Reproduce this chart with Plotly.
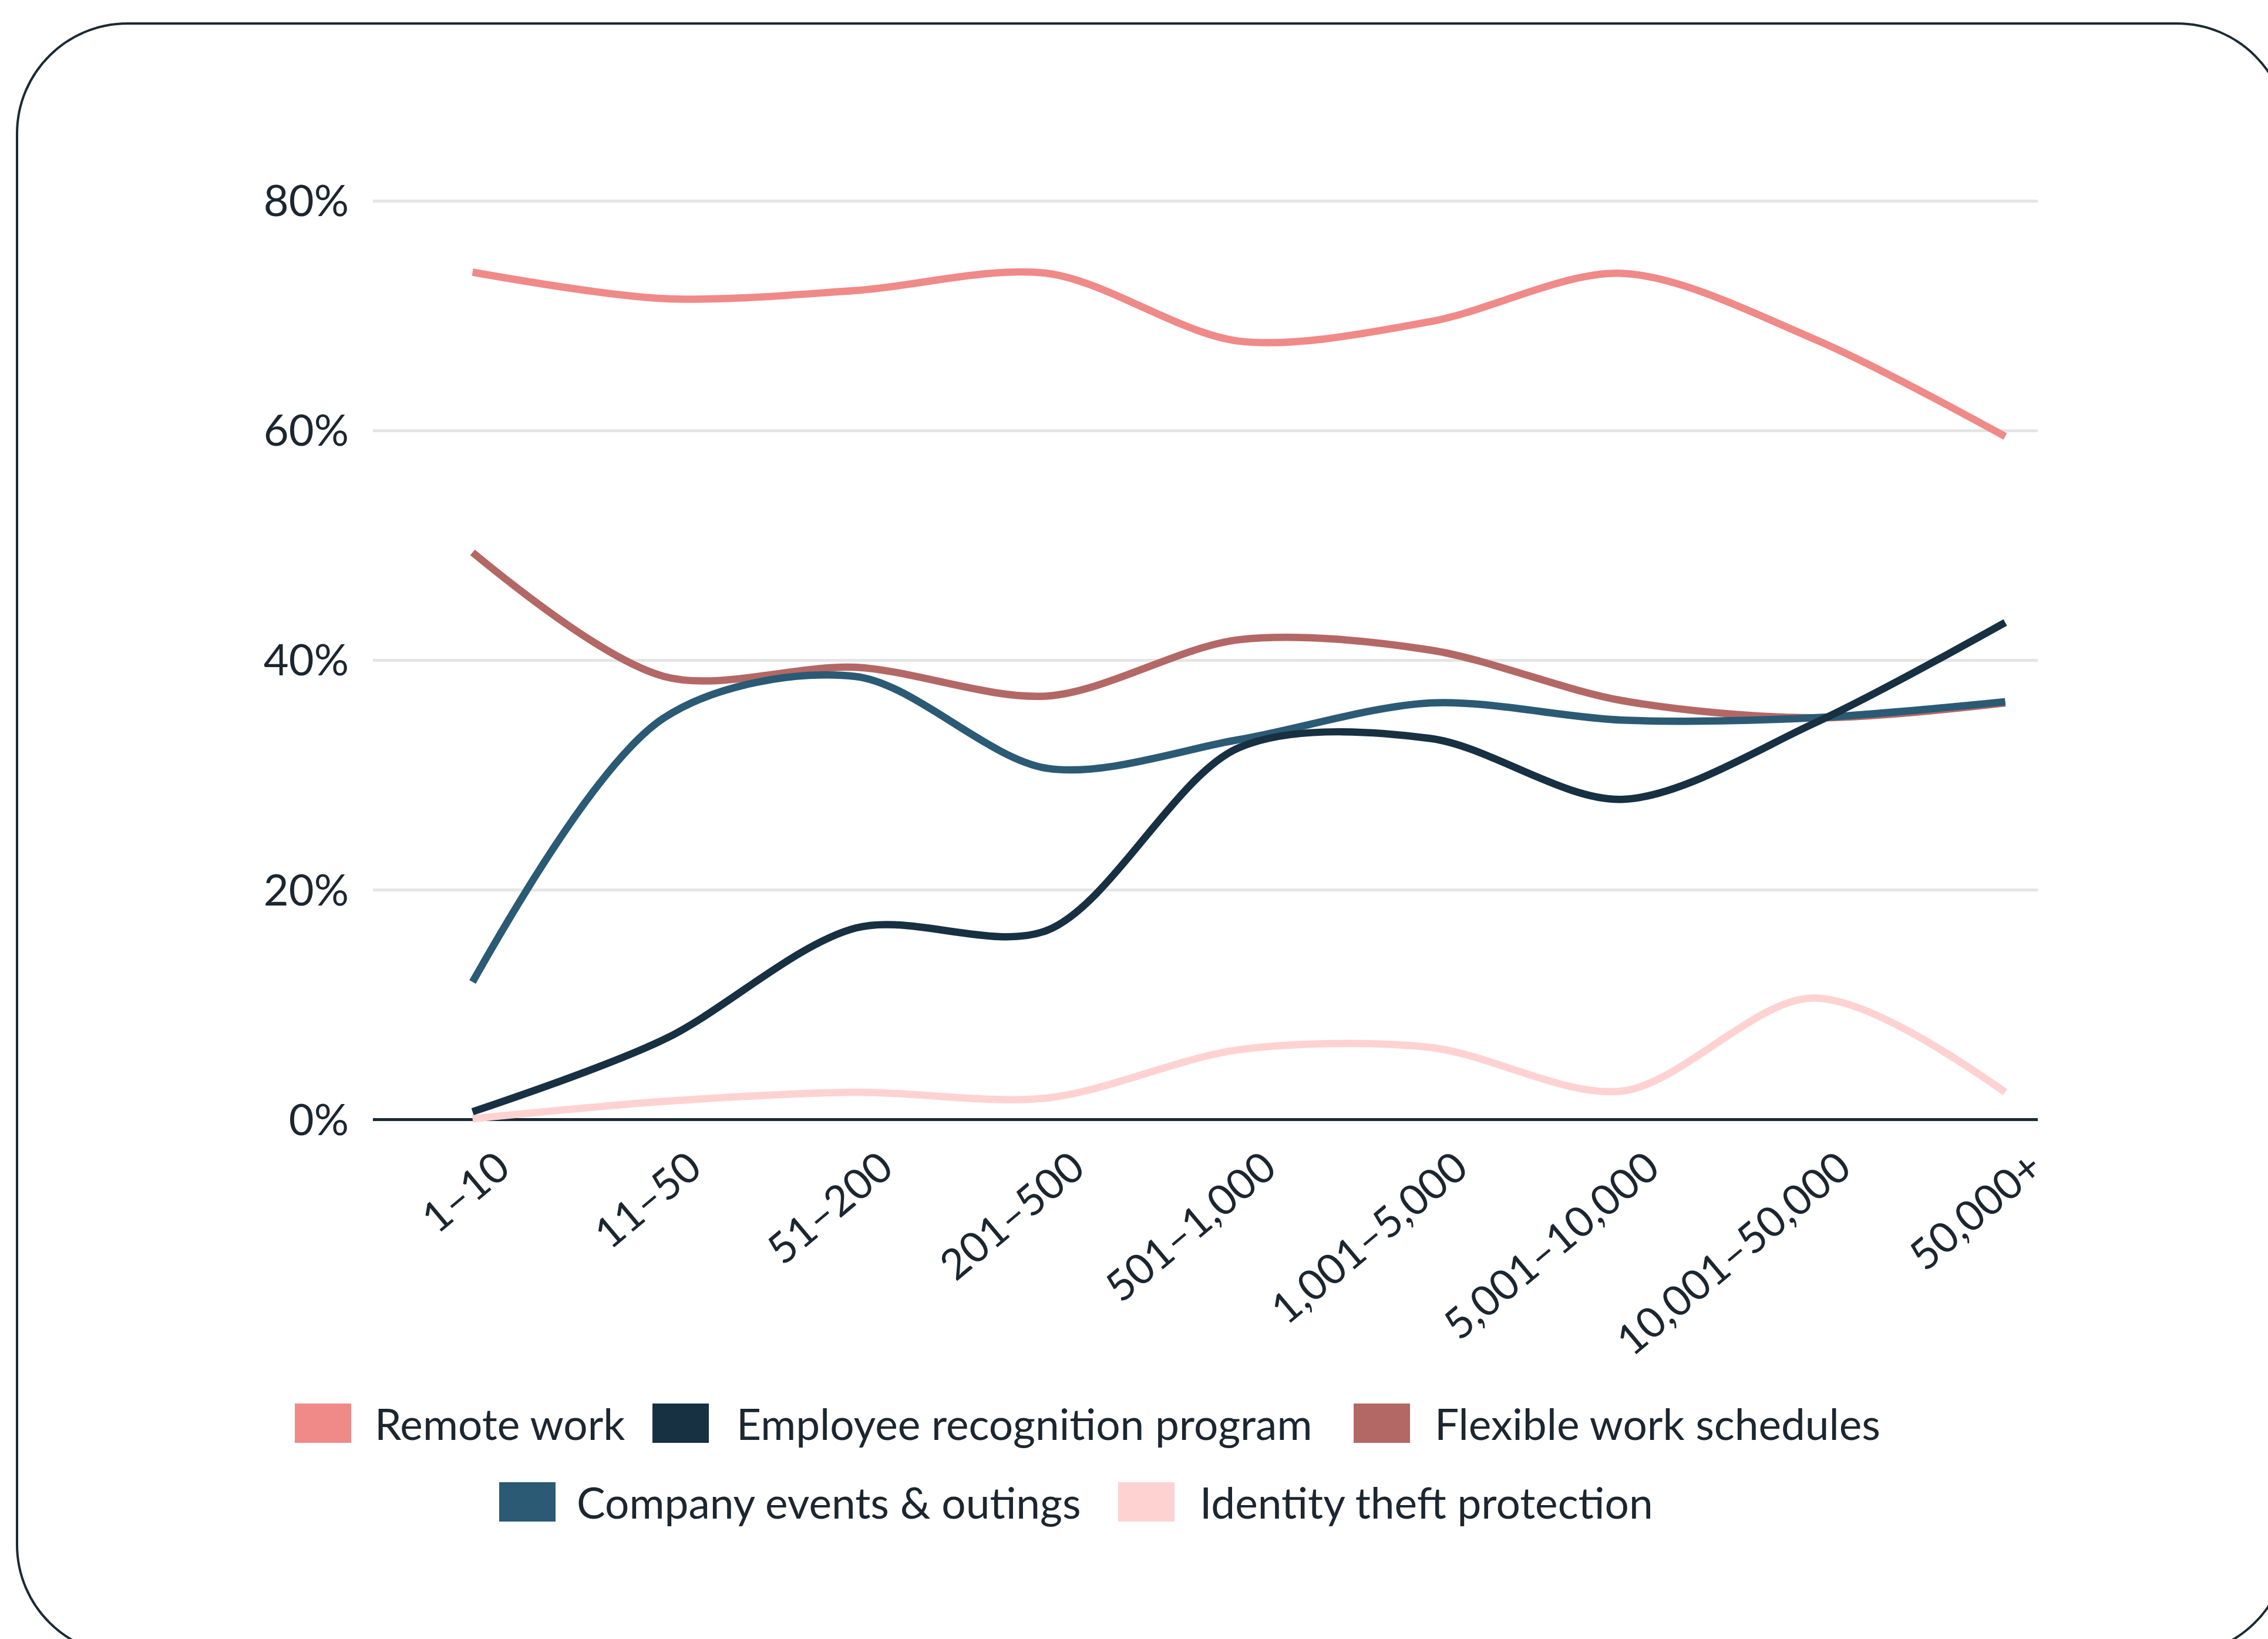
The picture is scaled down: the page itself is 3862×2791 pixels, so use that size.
import plotly.graph_objects as go

# Company size buckets (x categories)
sizes = ["1–10", "11–50", "51–200", "201–500", "501–1,000", "1,001–5,000",
         "5,001–10,000", "10,001–50,000", "50,000+"]

# Share of companies offering each benefit (%)
remote_work = [73.8, 71.5, 72.2, 73.7, 67.8, 69.5, 73.7, 68.0, 59.5]
employee_recognition = [0.7, 7.0, 16.7, 16.5, 32.4, 33.2, 27.9, 34.5, 43.3]
flexible_schedules = [49.4, 38.6, 39.4, 36.9, 41.8, 40.9, 36.5, 35.0, 36.3]
company_events = [12.0, 35.0, 38.6, 30.6, 33.1, 36.3, 34.8, 35.0, 36.4]
identity_theft = [0.1, 1.6, 2.4, 1.9, 6.1, 6.3, 2.5, 10.6, 2.4]

y_ticks = [0, 20, 40, 60, 80]
y_tick_labels = ["0%", "20%", "40%", "60%", "80%"]

series = [
    ("Remote work", remote_work, "#ef8a89"),
    ("Employee recognition program", employee_recognition, "#173042"),
    ("Flexible work schedules", flexible_schedules, "#b36866"),
    ("Company events & outings", company_events, "#2b5a75"),
    ("Identity theft protection", identity_theft, "#ffd2d2"),
]

W, H = 3862, 2791
ML, MR, MT, MB = 635, 392, 264, 845
PW, PH = W - ML - MR, H - MT - MB
FONT = "Lato"
INK = "#1b2630"


def px(x, y):
    """Convert page pixels to paper coordinates."""
    return (x - ML) / PW, (H - MB - y) / PH


fig = go.Figure()

# Draw order: lighter series underneath
for name, vals, col in [series[4], series[0], series[2], series[3], series[1]]:
    fig.add_trace(go.Scatter(
        x=sizes, y=vals, name=name, mode="lines",
        line=dict(color=col, width=12.5, shape="spline", smoothing=0.9),
        showlegend=False, hoverinfo="skip",
    ))

# Rounded outer frame
L, T, R, B, r = 29, 40, 3895, 2818, 188
k = 0.5523 * r


def P(x, y):
    a, b = px(x, y)
    return f"{a:.5f},{b:.5f}"


frame = (
    f"M {P(L + r, T)} L {P(R - r, T)} "
    f"C {P(R - r + k, T)} {P(R, T + r - k)} {P(R, T + r)} "
    f"L {P(R, B - r)} "
    f"C {P(R, B - r + k)} {P(R - r + k, B)} {P(R - r, B)} "
    f"L {P(L + r, B)} "
    f"C {P(L + r - k, B)} {P(L, B - r + k)} {P(L, B - r)} "
    f"L {P(L, T + r)} "
    f"C {P(L, T + r - k)} {P(L + r - k, T)} {P(L + r, T)} Z"
)
shapes = [dict(type="path", xref="paper", yref="paper", path=frame,
               line=dict(color="#1b2a33", width=4), layer="above")]

# Custom legend with square swatches, two centred rows
legend_rows = [
    (2423.5, [(0, 502, 636), (1, 1111, 1252), (2, 2305, 2441)]),
    (2557.5, [(3, 850, 980), (4, 1904, 2041)]),
]
annotations = []
sw_w, sw_h = 96, 67
for yc, items in legend_rows:
    for idx, sx, tx in items:
        name, _, col = series[idx]
        x0, y0 = px(sx, yc + sw_h / 2)
        x1, y1 = px(sx + sw_w, yc - sw_h / 2)
        shapes.append(dict(type="rect", xref="paper", yref="paper",
                           x0=x0, y0=y0, x1=x1, y1=y1,
                           fillcolor=col, line=dict(width=0)))
        ax, ay = px(tx, yc)
        annotations.append(dict(xref="paper", yref="paper", x=ax, y=ay,
                                xanchor="left", yanchor="middle",
                                text=name, showarrow=False,
                                font=dict(family=FONT, size=73, color=INK)))

fig.update_layout(
    width=W, height=H, autosize=False,
    margin=dict(l=ML, r=MR, t=MT, b=MB, pad=0),
    paper_bgcolor="white", plot_bgcolor="white",
    font=dict(family=FONT, color=INK, size=72),
    shapes=shapes, annotations=annotations,
    showlegend=False,
)
fig.update_xaxes(
    type="category", range=[-0.52, 8.17],
    showgrid=False, showline=False, zeroline=False, ticks="",
    tickangle=-40, tickfont=dict(family=FONT, size=72, color=INK),
    ticklabelstandoff=-15, ticklabelshift=45,
)
fig.update_yaxes(
    range=[-2, 84], tickvals=y_ticks, ticktext=y_tick_labels,
    showgrid=True, gridcolor="#e5e5e5", gridwidth=5,
    zeroline=True, zerolinecolor="#1b2a33", zerolinewidth=5,
    showline=False, ticks="",
    tickfont=dict(family=FONT, size=74, color=INK),
    ticklabelstandoff=40,
)

fig.write_html("out.html")
